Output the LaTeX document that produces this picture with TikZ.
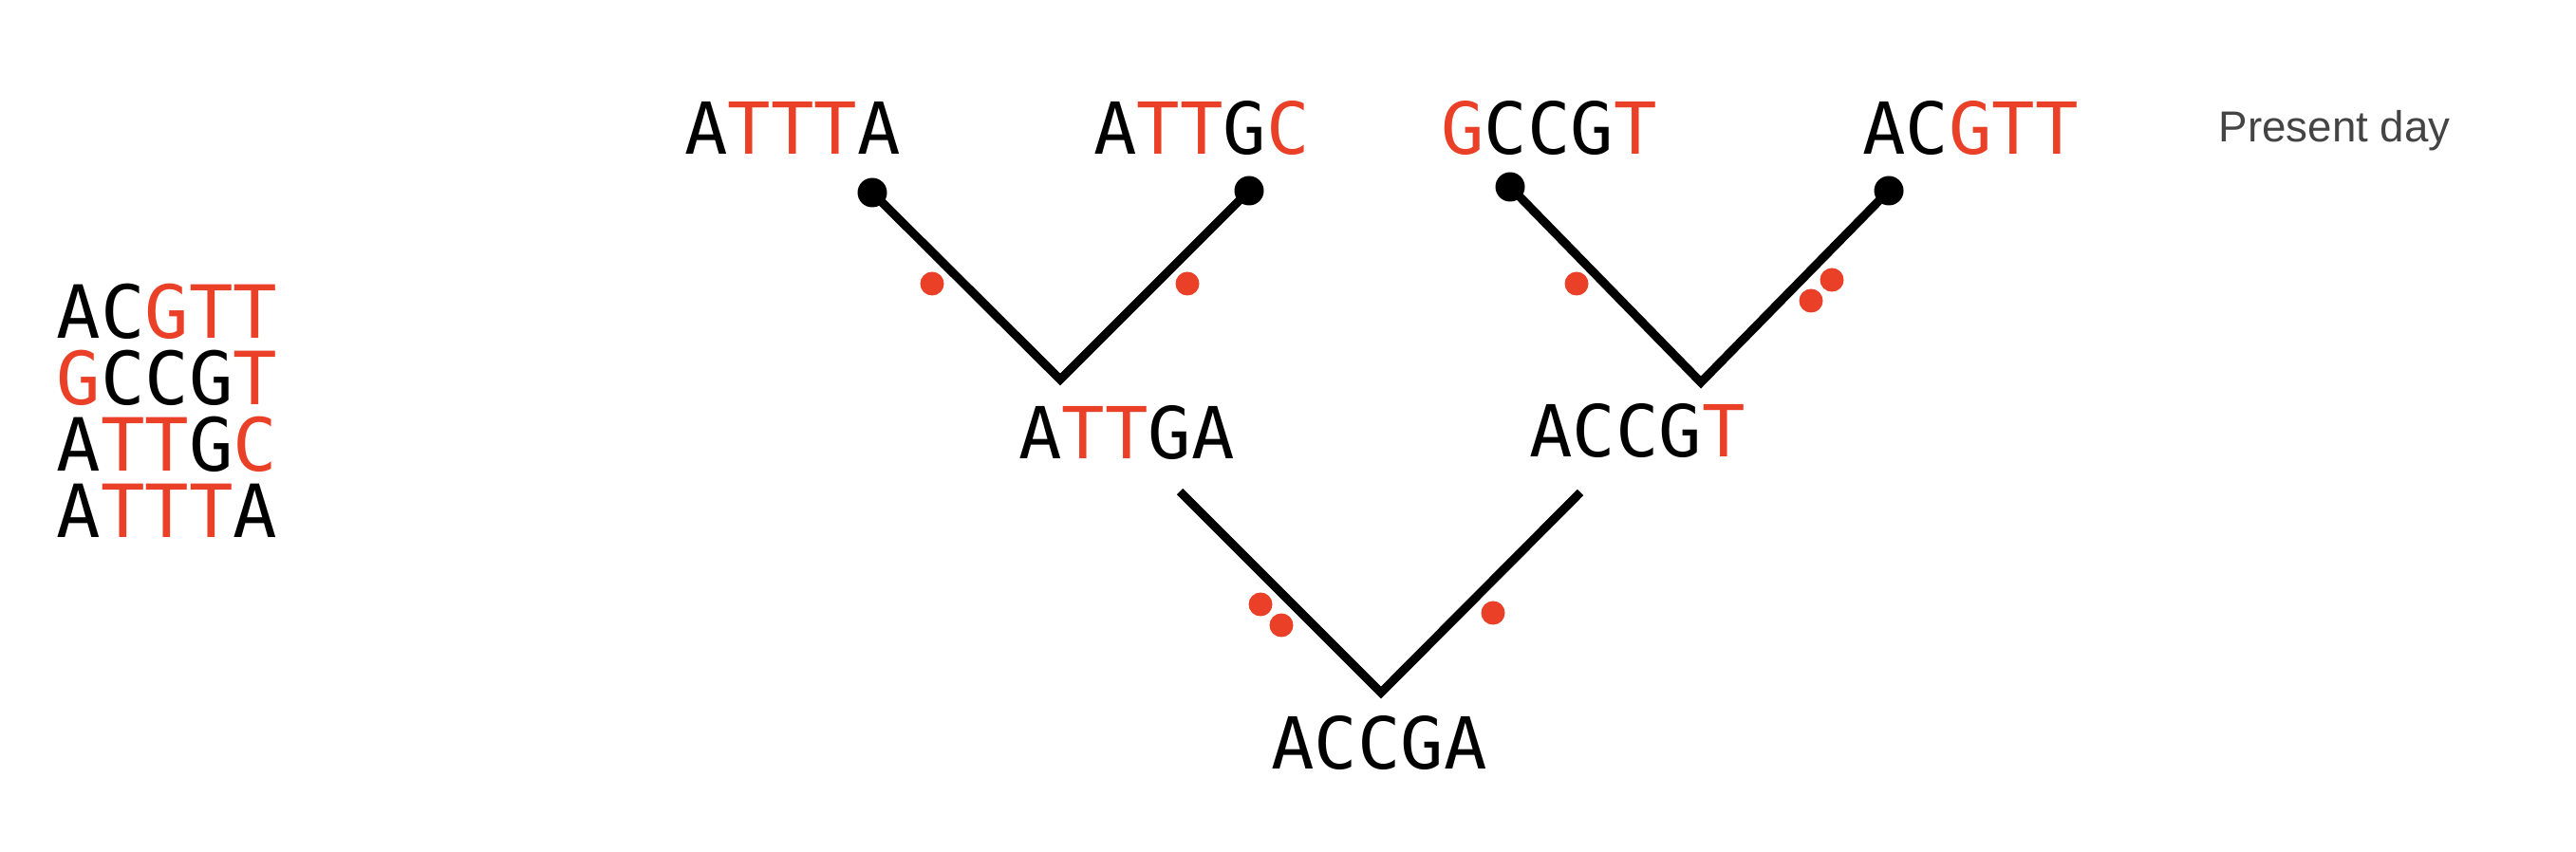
\documentclass[tikz,border=0pt]{standalone}
\usepackage{fontspec}
\setmainfont{Liberation Sans}
\newfontfamily\seqfont{DejaVu Sans Mono}
\definecolor{mutred}{RGB}{234,64,39}
\definecolor{labelgray}{RGB}{68,68,68}
\newcommand{\mut}[1]{\textcolor{mutred}{#1}}

\begin{document}
\begin{tikzpicture}[
      seq/.style={anchor=base,inner sep=0pt,font=\seqfont\fontsize{21.5}{21.5}\selectfont},
      aln/.style={seq,font=\seqfont\fontsize{22}{22}\selectfont},
      tip/.style={circle,fill=black,inner sep=0pt,minimum size=0.31cm},
      hit/.style={circle,fill=mutred,inner sep=0pt,minimum size=0.25cm},
      branch/.style={line width=2.6pt}]
   \useasboundingbox (0,0) rectangle (27.14,8.98);
   % alignment
   \node[aln] (alnA) at (1.76,5.41) {AC\mut{GTT}};
   \node[aln] (alnB) at (1.76,4.71) {\mut{G}CCG\mut{T}};
   \node[aln] (alnC) at (1.76,4.01) {A\mut{TT}G\mut{C}};
   \node[aln] (alnD) at (1.76,3.31) {A\mut{TTT}A};
   % present day
   \node[seq] (leafA) at (8.35,7.35) {A\mut{TTT}A};
   \node[seq] (leafB) at (12.66,7.35) {A\mut{TT}G\mut{C}};
   \node[seq] (leafC) at (16.32,7.35) {\mut{G}CCG\mut{T}};
   \node[seq] (leafD) at (20.76,7.35) {AC\mut{GTT}};
   \node[anchor=base west,inner sep=0pt,text=labelgray,font=\fontsize{13}{13}\selectfont] (now) at (23.37,7.48) {Present day};
   % ancestors
   \node[seq] (ancL) at (11.87,4.14) {A\mut{TT}GA};
   \node[seq] (ancR) at (17.25,4.16) {ACCG\mut{T}};
   \node[seq] (root) at (14.53,0.87) {ACCGA};
   % branches
   \node[tip] (dA) at (9.19,6.95) {};
   \node[tip] (dB) at (13.16,6.97) {};
   \node[tip] (dC) at (15.91,7.01) {};
   \node[tip] (dD) at (19.90,6.97) {};
   \coordinate (vL) at (11.17,4.98);
   \coordinate (vR) at (17.92,4.95);
   \coordinate (sL) at (12.43,3.80);
   \coordinate (sR) at (16.65,3.79);
   \coordinate (vRoot) at (14.55,1.68);
   \draw[branch] (dA.center) -- (vL) -- (dB.center);
   \draw[branch] (dC.center) -- (vR) -- (dD.center);
   \draw[branch] (sL) -- (vRoot) -- (sR);
   % mutations
   \foreach \x/\y [count=\i] in {9.82/5.99,12.51/5.99,16.61/5.99,19.30/6.03,19.08/5.81,13.28/2.61,13.50/2.39,15.73/2.52}
      \node[hit] (mut\i) at (\x,\y) {};
\end{tikzpicture}
\end{document}
